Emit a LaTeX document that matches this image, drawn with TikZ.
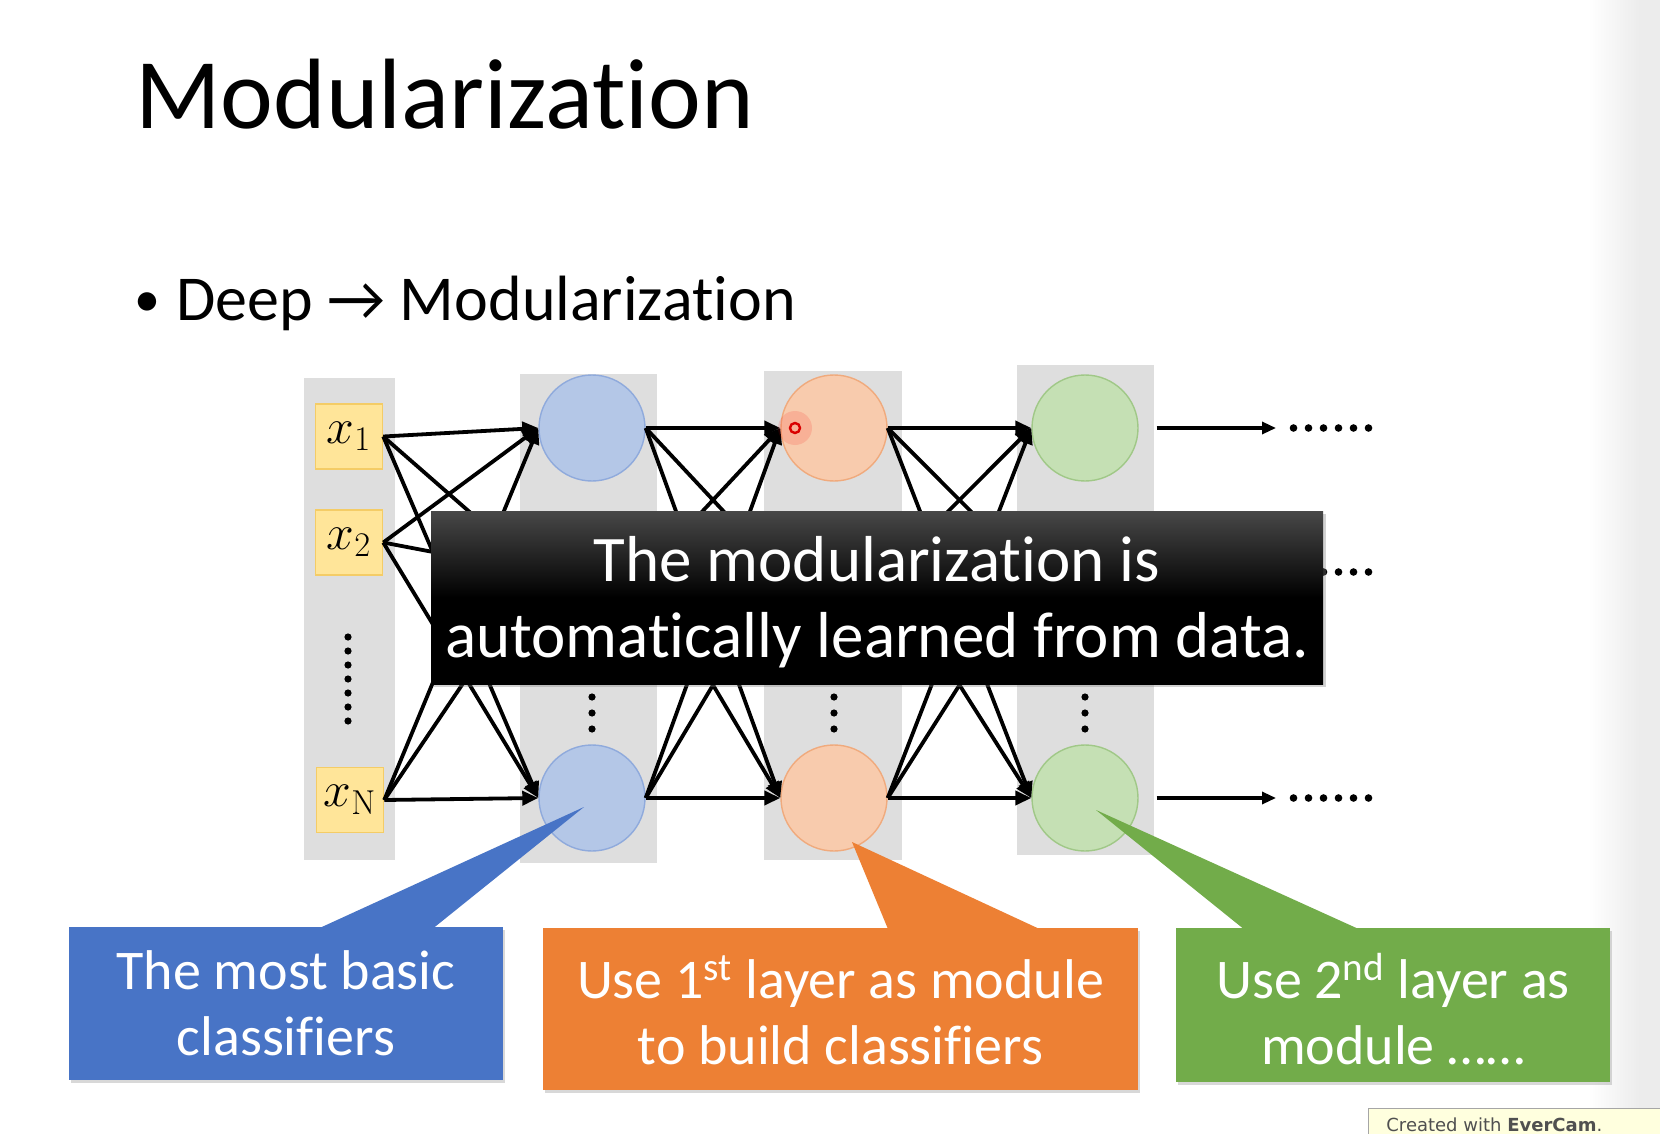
\documentclass[tikz,border=0pt]{standalone}
\usepackage[no-math]{fontspec}
\setmainfont{Carlito}[Ligatures=NoCommon]
\newfontfamily\markfont{DejaVu Sans}
\usetikzlibrary{arrows.meta,shadows,calc}

\definecolor{colgray}{RGB}{222,222,222}
\definecolor{edgegray}{RGB}{236,236,236}
\definecolor{infill}{RGB}{255,229,153}
\definecolor{inborder}{RGB}{244,204,102}
\definecolor{nbluef}{RGB}{180,199,231}
\definecolor{nblued}{RGB}{143,170,220}
\definecolor{norgf}{RGB}{248,203,173}
\definecolor{norgd}{RGB}{240,170,125}
\definecolor{ngrnf}{RGB}{197,224,180}
\definecolor{ngrnd}{RGB}{160,200,135}
\definecolor{cblue}{RGB}{72,116,198}
\definecolor{corange}{RGB}{237,128,52}
\definecolor{cgreen}{RGB}{114,172,74}
\definecolor{captop}{RGB}{72,72,72}
\definecolor{wmfill}{RGB}{255,255,222}
\definecolor{wmtext}{RGB}{80,80,80}

\begin{document}
\begin{tikzpicture}[x=0.5pt,y=-0.5pt,
  layercol/.style={fill=colgray},
  inbox/.style={draw=inborder, fill=infill, line width=0.75pt,
    minimum width=33.5pt, minimum height=32.5pt, inner sep=0pt,
    font=\fontsize{25}{30}\selectfont},
  neuron/.style={circle, minimum size=53pt, inner sep=0pt, line width=0.7pt},
  nblue/.style={neuron, draw=nblued, fill=nbluef},
  norange/.style={neuron, draw=norgd, fill=norgf},
  ngreen/.style={neuron, draw=ngrnd, fill=ngrnf},
  hiddenneuron/.style={neuron},
  link/.style={line width=1.9pt, -{Triangle[length=8pt,width=7pt]}},
  outlink/.style={line width=1.6pt, -{Triangle[length=7pt,width=6pt]}},
  callbox/.style={inner sep=0pt, drop shadow={shadow xshift=1.2pt, shadow yshift=-1.5pt, opacity=0.3}},
  calltext/.style={text=white, align=center, inner sep=0pt,
    font=\fontsize{28}{33}\selectfont},
  dot/.style={fill=black},
]
% canvas
\useasboundingbox (0,0) rectangle (1660,1134);
\fill[white] (0,0) rectangle (1660,1134);
\shade[left color=white, right color=edgegray] (1588,0) rectangle (1640,1134);
\fill[edgegray] (1640,0) rectangle (1660,1134);

% headings
\node[anchor=base west, inner sep=0pt, font=\fontsize{50}{60}\selectfont] (title) at (135,129) {Modularization};
\node[anchor=base west, inner sep=0pt, font=\fontsize{26}{26}\selectfont] (bulletmark) at (134,316) {\textbullet};
\node[anchor=base west, inner sep=0pt, font=\fontsize{32}{38}\selectfont] (bullet) at (176,321)
  {Deep → Modularization};

% layer columns
\fill[layercol] (304,378) rectangle (395,860);
\fill[layercol] (520,374) rectangle (657,863);
\fill[layercol] (764,371) rectangle (902,860);
\fill[layercol] (1017,365) rectangle (1154,855);

% inputs
\node[inbox] (x1) at (349,436.5) {$x_1$};
\node[inbox] (x2) at (349,542.5) {$x_2$};
\node[inbox] (xN) at (350,800) {$x_{\mathrm{N}}$};
\foreach \k in {0,...,6} \fill[dot] (348,637+14*\k) circle (3.6);

% neurons
\node[nblue] (a1) at (592,428) {};
\node[hiddenneuron] (a2) at (592,572) {};
\node[nblue] (a3) at (592,798) {};
\node[norange] (b1) at (834,428) {};
\node[hiddenneuron] (b2) at (834,572) {};
\node[norange] (b3) at (834,798) {};
\node[ngreen] (c1) at (1085,428) {};
\node[hiddenneuron] (c2) at (1085,572) {};
\node[ngreen] (c3) at (1085,798) {};
\foreach \xx in {592,834,1085}
  \foreach \yy in {697,713,729} \fill[dot] (\xx,\yy) circle (3.6);

% fully connected links
\foreach \s in {x1,x2,xN}
  \foreach \t in {a1,a2,a3} \draw[link] (\s.east) -- (\t.west);
\foreach \s in {a1,a2,a3}
  \foreach \t in {b1,b2,b3} \draw[link] (\s.east) -- (\t.west);
\foreach \s in {b1,b2,b3}
  \foreach \t in {c1,c2,c3} \draw[link] (\s.east) -- (\t.west);

% outputs continuing to further layers
\coordinate (e1) at (1276,428);
\coordinate (e2) at (1276,572);
\coordinate (e3) at (1276,798);
\draw[outlink] ([xshift=9pt]c1.east) -- (e1);
\draw[outlink] ([xshift=9pt]c2.east) -- (e2);
\draw[outlink] ([xshift=9pt]c3.east) -- (e3);
\foreach \yy in {428,572,798}
  \foreach \k in {0,...,5} \fill[dot] (1293.5+15*\k,\yy) circle (3.8);

% pointer mark
\fill[red, opacity=0.13] (795,428) circle (17);
\draw[red!85!black, line width=1.2pt] (795,428) circle (5);

% callouts
\node[callbox, fill=cblue, minimum width=217pt, minimum height=76.5pt] (cb) at (286,1003.5) {};
\fill[cblue] ($(cb.north west)+(253,0.5)$) -- ($(a3)+(-8,9)$) -- ($(cb.north west)+(366,0.5)$) -- cycle;
\node[calltext] (cbt) at (cb.center) {The most basic\\classifiers};

\node[callbox, fill=corange, minimum width=297.5pt, minimum height=81pt] (co) at (840.5,1009) {};
\fill[corange] ($(co.north west)+(345,0.5)$) -- ($(b3)+(18,44)$) -- ($(co.north west)+(495,0.5)$) -- cycle;
\node[calltext] (cot) at ([yshift=-0.5pt]co.center) {Use 1\textsuperscript{st} layer as module\\to build classifiers};

\node[callbox, fill=cgreen, minimum width=217pt, minimum height=77pt] (cg) at (1393,1005) {};
\fill[cgreen] ($(cg.north west)+(67,0.5)$) -- ($(c3)+(11,12)$) -- ($(cg.north west)+(181,0.5)$) -- cycle;
\node[calltext] (cgt) at ([yshift=-2pt]cg.center) {Use 2\textsuperscript{nd} layer as\\module ……};

% caption banner
\node[inner sep=0pt, minimum width=446pt, minimum height=86.5pt,
  top color=captop, bottom color=black, middle color=black,
  drop shadow={shadow xshift=1.5pt, shadow yshift=-1.5pt, opacity=0.35}] (cap) at (877,597.5) {};
\node[text=white, align=center, inner sep=0pt, font=\fontsize{32.5}{38}\selectfont] (capt)
  at ([yshift=-2.2pt]cap.center) {The modularization is\\automatically learned from data.};

% recorder stamp
\draw[gray!70, fill=wmfill, line width=0.5pt] (1368,1108) rectangle (1664,1140);
\node[anchor=base west, inner sep=0pt, text=wmtext, font=\markfont\fontsize{9}{10}\selectfont] (stamp)
  at (1386,1131) {Created with \textbf{EverCam}.};
\end{tikzpicture}
\end{document}
